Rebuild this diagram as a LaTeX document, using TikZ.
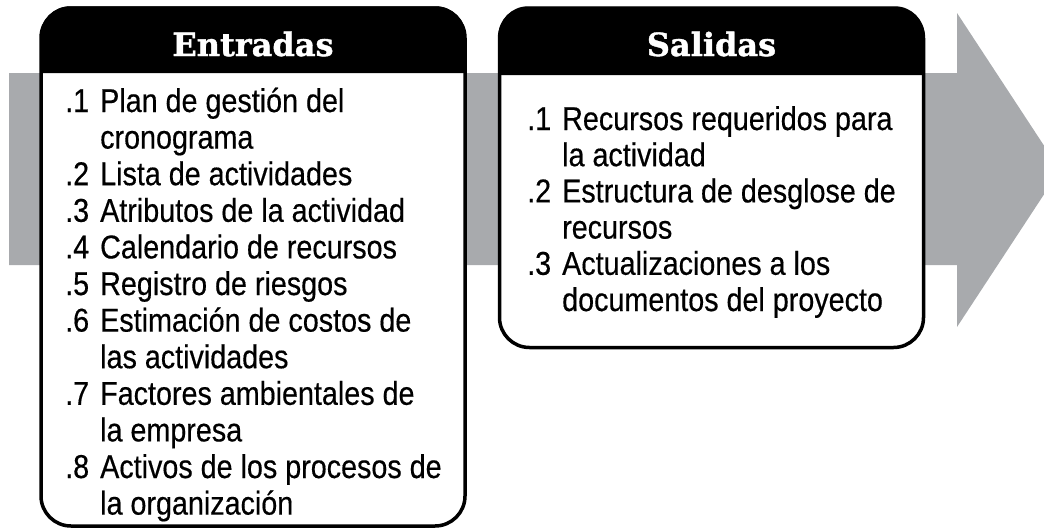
\documentclass[tikz,border=0pt]{standalone}
\usepackage{fontspec}
\setmainfont[FakeStretch=0.87,FakeBold=0.4]{Liberation Sans}
\newfontfamily\headfont[FakeStretch=1.0,FakeBold=1.2]{DejaVu Serif}
\definecolor{bandgray}{RGB}{168,170,173}
\tikzset{
  x=1pt, y=-1pt,
  boxframe/.style={draw=black, line width=3.5pt, fill=white, rounded corners=30pt, inner sep=0pt},
  headtext/.style={text=white, font=\headfont\bfseries\fontsize{32}{36}\selectfont, anchor=base, inner sep=0pt},
  itemtext/.style={text=black, font=\fontsize{33}{36}\selectfont, anchor=base west, inner sep=0pt},
}
\newcommand{\num}[1]{\makebox[35pt][l]{#1}}
\begin{document}
\begin{tikzpicture}
\useasboundingbox (0,0) rectangle (1044,530);
\clip (0,0) rectangle (1044,530);
% background arrow
\fill[bandgray] (9,73) -- (957,73) -- (957,13) -- (1060,170) -- (957,327) -- (957,265) -- (9,265) -- cycle;
% Entradas box
\node[boxframe, minimum width=424pt, minimum height=518pt] (ebox) at (253,267) {};
\fill[black] (40.25,73) [rounded corners=30pt] -- (40.25,6.25) -- (465.75,6.25) [sharp corners] -- (465.75,73) -- cycle;
\node[headtext] (ehead) at (253,56) {Entradas};
% Salidas box
\node[boxframe, minimum width=424pt, minimum height=339pt] (sbox) at (711.5,178) {};
\fill[black] (498.25,75) [rounded corners=30pt] -- (498.25,6.25) -- (924.75,6.25) [sharp corners] -- (924.75,75) -- cycle;
\node[headtext] (shead) at (711.5,56) {Salidas};
% Entradas items
\node[itemtext] (e1) at (65,112) {\num{.1}Plan de gestión del};
\node[itemtext] (e1b) at (100,148.6) {cronograma};
\node[itemtext] (e2) at (65,185.2) {\num{.2}Lista de actividades};
\node[itemtext] (e3) at (65,221.8) {\num{.3}Atributos de la actividad};
\node[itemtext] (e4) at (65,258.4) {\num{.4}Calendario de recursos};
\node[itemtext] (e5) at (65,295) {\num{.5}Registro de riesgos};
\node[itemtext] (e6) at (65,331.6) {\num{.6}Estimación de costos de};
\node[itemtext] (e6b) at (100,368.2) {las actividades};
\node[itemtext] (e7) at (65,404.8) {\num{.7}Factores ambientales de};
\node[itemtext] (e7b) at (100,441.4) {la empresa};
\node[itemtext] (e8) at (65,478) {\num{.8}Activos de los procesos de};
\node[itemtext] (e8b) at (100,514.6) {la organización};
% Salidas items
\node[itemtext] (s1) at (527,130) {\num{.1}Recursos requeridos para};
\node[itemtext] (s1b) at (562,166.2) {la actividad};
\node[itemtext] (s2) at (527,202.4) {\num{.2}Estructura de desglose de};
\node[itemtext] (s2b) at (562,238.6) {recursos};
\node[itemtext] (s3) at (527,274.8) {\num{.3}Actualizaciones a los};
\node[itemtext] (s3b) at (562,311) {documentos del proyecto};
\end{tikzpicture}
\end{document}
